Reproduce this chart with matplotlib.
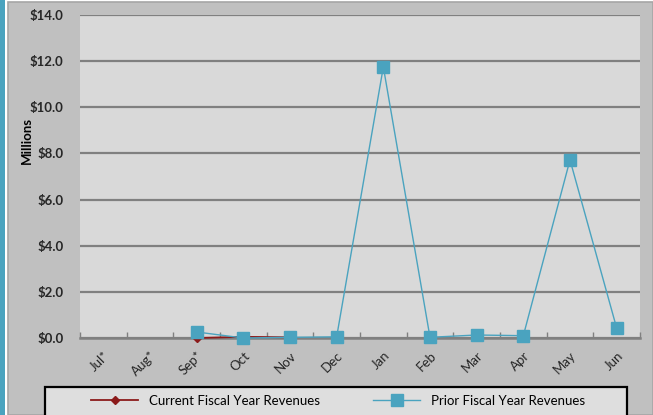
import matplotlib
matplotlib.use("Agg")
import matplotlib.pyplot as plt
from matplotlib.patches import Rectangle
from matplotlib.lines import Line2D
import numpy as np

months = ["Jul*", "Aug*", "Sep*", "Oct", "Nov", "Dec", "Jan", "Feb", "Mar", "Apr", "May", "Jun"]
current_rev = [None, None, 0.0, 0.05, 0.03, None, None, None, None, None, None, None]
prior_rev = [None, None, 0.26, 0.0, 0.03, 0.05, 11.75, 0.03, 0.13, 0.1, 7.72, 0.43]
y_ticks = [0, 2, 4, 6, 8, 10, 12, 14]

W, H = 653, 415
plt.rcParams["font.family"] = ["Lato", "DejaVu Sans"]
fig = plt.figure(figsize=(W / 100, H / 100), dpi=100)
fig.patch.set_facecolor("white")

# chart area background and frame
fig.patches.append(Rectangle((8 / W, 0), (W - 8) / W, (H - 2) / H, transform=fig.transFigure,
                             facecolor="#c0c0c0", edgecolor="#a6a6a6", linewidth=1.2, zorder=-10))
# accent bar on the left edge
fig.patches.append(Rectangle((0, 0), 4.5 / W, 1, transform=fig.transFigure,
                             facecolor="#4aa3bf", edgecolor="none", zorder=-10))
# legend box
fig.patches.append(Rectangle((45 / W, -0.01), (627 - 45) / W, (H - 387) / H + 0.01,
                             transform=fig.transFigure, facecolor="#dedede",
                             edgecolor="#000000", linewidth=1.6, zorder=-5))

left, right, top, bottom = 80, 640, 15, 338
ax = fig.add_axes([left / W, 1 - bottom / H, (right - left) / W, (bottom - top) / H])
ax.set_facecolor("#d9d9d9")

x = np.arange(len(months))
cur = np.array([np.nan if v is None else v for v in current_rev], dtype=float)
pri = np.array([np.nan if v is None else v for v in prior_rev], dtype=float)

ax.plot(x, cur, color="#8b1a1a", linewidth=1.3, marker="D", markersize=4.5,
        markerfacecolor="#8b1a1a", markeredgecolor="#8b1a1a", zorder=3, clip_on=False)
ax.plot(x, pri, color="#4aa3bf", linewidth=1.0, marker="s", markersize=8.5,
        markerfacecolor="#4aa3bf", markeredgecolor="#4aa3bf", zorder=4, clip_on=False)

ax.set_xlim(-0.5, len(months) - 0.5)
ax.set_ylim(0, 14)
ax.set_yticks(y_ticks)
ax.set_yticklabels([f"${v:.1f}" for v in y_ticks], fontsize=9.5, fontweight="bold", color="#262626")
ax.yaxis.grid(True, color="#808080", linewidth=1.6)
ax.set_axisbelow(True)
ax.tick_params(axis="y", length=0, pad=12)

ax.set_xticks(x)
ax.set_xticklabels(months, rotation=45, ha="right", rotation_mode="anchor",
                   fontsize=9.5, color="#262626")
ax.tick_params(axis="x", length=0, pad=8)
ax.set_xticks(np.arange(-0.5, len(months) + 0.5, 1), minor=True)
ax.tick_params(axis="x", which="minor", length=4, direction="in", color="#808080", width=1)

for s in ["top", "right", "left"]:
    ax.spines[s].set_visible(False)
ax.spines["bottom"].set_color("#808080")
ax.spines["bottom"].set_linewidth(1.8)

fig.text(27 / W, 1 - 140 / H, "Millions", rotation=90, ha="center", va="center",
         fontsize=9.5, fontweight="bold", color="#000000")

handles = [
    Line2D([], [], color="#8b1a1a", linewidth=1.3, marker="D", markersize=4.5),
    Line2D([], [], color="#4aa3bf", linewidth=1.0, marker="s", markersize=8),
]
leg = fig.legend(handles, ["Current Fiscal Year Revenues", "Prior Fiscal Year Revenues"],
                 loc="center", bbox_to_anchor=(338 / W, 1 - 401 / H), ncol=2, fontsize=9.5,
                 frameon=False, handlelength=3.6, columnspacing=4.0, handletextpad=0.8)

fig.savefig("out.png", dpi=100, facecolor=fig.get_facecolor())
